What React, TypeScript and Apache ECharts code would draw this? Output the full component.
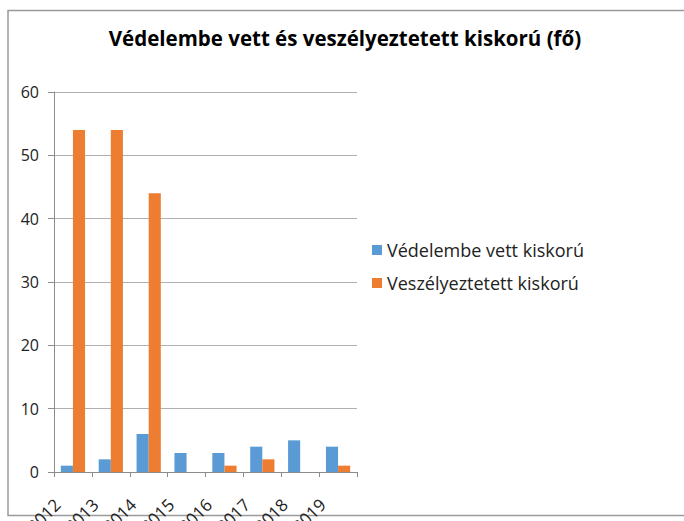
import React, { useEffect, useRef } from "react";
import * as echarts from "echarts";

const categories = ["2012", "2013", "2014", "2015", "2016", "2017", "2018", "2019"];
const vedelembe = [1, 2, 6, 3, 3, 4, 5, 4];
const veszelyeztetett = [54, 54, 44, 0, 1, 2, 0, 1];
const seriesNames = ["Védelembe vett kiskorú", "Veszélyeztetett kiskorú"];
const titleText = "Védelembe vett és veszélyeztetett kiskorú (fő)";

const FONT = "'Open Sans', Lato, sans-serif";

export default function App() {
  const ref = useRef<HTMLDivElement>(null);
  useEffect(() => {
    document.body.style.margin = "0";
    const chart = echarts.init(ref.current!, null, { renderer: "svg" });
    chart.setOption({
      animation: false,
      backgroundColor: "#ffffff",
      title: {
        text: titleText,
        left: 345,
        textAlign: "center",
        top: 27,
        padding: 0,
        textStyle: { fontFamily: FONT, fontSize: 20.5, fontWeight: "bold", color: "#000" },
      },
      legend: {
        orient: "vertical",
        left: 372,
        top: 241,
        padding: 0,
        itemWidth: 10,
        itemHeight: 10,
        itemGap: 15,
        icon: "rect",
        textStyle: { fontFamily: FONT, fontSize: 18, color: "#222" },
        data: seriesNames,
      },
      grid: { left: 54, right: 327, top: 92, bottom: 49, containLabel: false, outerBoundsMode: "none" },
      xAxis: {
        type: "category",
        data: categories,
        axisLine: { lineStyle: { color: "#8c8c8c", width: 1 } },
        axisTick: { show: true, length: 5, lineStyle: { color: "#8c8c8c" } },
        axisLabel: {
          rotate: 45,
          margin: 14,
          padding: [0, 22, 0, 0],
          fontFamily: FONT,
          fontSize: 17,
          color: "#222",
          interval: 0,
          hideOverlap: false,
        },
      },
      yAxis: {
        type: "value",
        min: 0,
        max: 60,
        interval: 10,
        axisLine: { show: true, lineStyle: { color: "#8c8c8c", width: 1 } },
        axisTick: { show: true, length: 6, lineStyle: { color: "#8c8c8c" } },
        axisLabel: { margin: 15, fontFamily: FONT, fontSize: 16, color: "#222" },
        splitLine: { lineStyle: { color: "#b0b0b0", width: 1 } },
      },
      series: [
        {
          name: seriesNames[0],
          type: "bar",
          data: vedelembe,
          itemStyle: { color: "#5B9BD5" },
          barGap: "0%",
          barCategoryGap: "36%",
        },
        {
          name: seriesNames[1],
          type: "bar",
          data: veszelyeztetett,
          itemStyle: { color: "#ED7D31" },
          barGap: "0%",
          barCategoryGap: "36%",
        },
      ],
      graphic: [
        {
          type: "rect",
          shape: { x: 8, y: 10.5, width: 720, height: 505 },
          style: { fill: "none", stroke: "#9a9a9a", lineWidth: 1.5 },
          silent: true,
        },
      ],
    });
    return () => chart.dispose();
  }, []);
  return <div ref={ref} style={{ width: 684, height: 521 }} />;
}
